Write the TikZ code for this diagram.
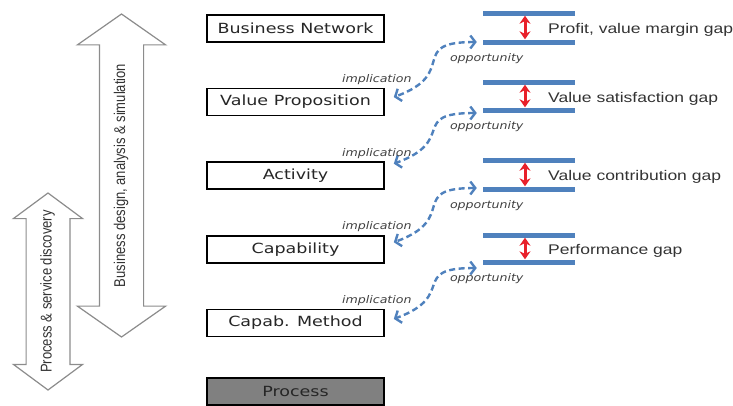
\documentclass[tikz,border=0pt]{standalone}
\usepackage{fontspec}
\setmainfont{Liberation Sans}
\newfontfamily\boxfont{DejaVu Sans}[FakeStretch=1.25]
\newfontfamily\gapfont{Liberation Sans}[FakeStretch=1.25]
\newfontfamily\notefont{DejaVu Sans Oblique}[FakeStretch=1.2]
\usetikzlibrary{calc, arrows.meta, shapes.arrows, positioning}
\definecolor{barblue}{RGB}{79,129,189}
\definecolor{gapred}{RGB}{232,32,42}
\definecolor{outl}{RGB}{140,140,140}
\definecolor{procgray}{RGB}{128,128,128}

\begin{document}
\begin{tikzpicture}[x=1pt, y=1pt,
        n/.style={draw, line width=1.6pt, minimum width=177pt, minimum height=27pt, inner sep=0,
          text=black!85, font=\boxfont\fontsize{14}{16}\selectfont},
        bar/.style={fill=barblue, minimum width=92pt, minimum height=5pt, inner sep=0},
        g/.style={gapred, line width=3pt, {Stealth[length=8pt,width=11pt]}-{Stealth[length=8pt,width=11pt]}},
        e/.style={barblue, line width=2.4pt, dash pattern=on 6pt off 3.5pt,
          {Straight Barb[length=5pt,width=13pt]}-{Straight Barb[length=5pt,width=13pt]}},
        imp/.style={inner sep=0, text=black!75, font=\notefont\fontsize{10.5}{12}\selectfont},
        gl/.style={inner sep=0, text=black!80, font=\gapfont\fontsize{14}{16}\selectfont},
        big/.style={double arrow, draw=outl, fill=white, line width=1.2pt, rotate=90,
          inner xsep=0, text height=10pt, text depth=3pt, text=black!80,
          font=\fontsize{13}{15}\selectfont}]
        \useasboundingbox (0,0) rectangle (733,-405);

        % left: the two double arrows
        \node[big, minimum height=323pt, inner ysep=15pt, double arrow head extend=22pt,
          double arrow tip angle=110] (design) at (121.5,-175.5)
          {\scalebox{1}[1.2]{Business design, analysis \& simulation}};
        \node[big, minimum height=197pt, inner ysep=14.8pt, double arrow head extend=12.7pt,
          double arrow tip angle=107] (disc) at (48,-291.5)
          {\scalebox{1}[1.2]{Process \& service discovery}};

        % middle: the levels
        \node[n] (b0) at (295.5,-28.5) {Business Network};
        \foreach \x/\t [evaluate = \x as \xp using int(\x-1)] in {1/Value Proposition, 2/Activity, 3/Capability, 4/Capab. Method}
        \node[n, below=45pt of b\xp] (b\x) {\t};
        \node[n, fill=procgray, below=40pt of b4] (b5) {Process};

        % right: the gaps
        \foreach \i/\a/\b/\t in {1/13/42/{Profit, value margin gap}, 2/82/110/Value satisfaction gap,
                                3/160/189/Value contribution gap, 4/235/262/Performance gap}
        {
        \node[bar] (t\i) at (529,-\a) {};
        \node[bar] (u\i) at (529,-\b) {};
        \draw[g] ([xshift=-4pt]t\i.south) -- ([xshift=-4pt]u\i.north);
        \coordinate (m\i) at ($(t\i)!0.5!(u\i)$);
        \node[gl, right=19pt of m\i, yshift=-2.5pt] (gl\i) {\t};
        }

        % implication / opportunity
        \foreach \i/\ly/\ry in {1/5/0, 2/12/-3, 3/7/1, 4/4/-6}
        {
        \draw[e] ([shift={(-6pt,\ry pt)}]u\i.west) to[out=180, in=20, looseness=1.8] ([shift={(9pt,\ly pt)}]b\i.east);
        \node[imp, anchor=south east] (imp\i) at ([shift={(27pt,17pt)}]b\i.east) {implication};
        \node[imp, anchor=north west] (opp\i) at ([shift={(-33pt,-11pt)}]u\i.west) {opportunity};
        }
      \end{tikzpicture}
\end{document}
